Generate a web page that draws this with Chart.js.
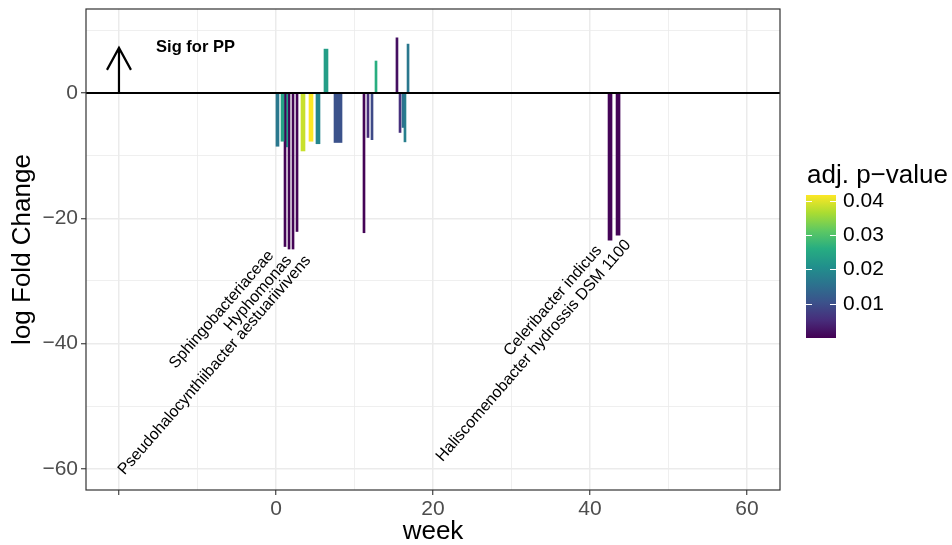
<!DOCTYPE html>
<html lang="en">
<head>
  <meta charset="UTF-8">
  <title>log Fold Change by week</title>
  <script src="https://cdn.jsdelivr.net/npm/chart.js"></script>
  <style>
    body {
      margin: 0;
      background: #fff;
    }

    #chart-container {
      width: 952px;
      height: 545px;
    }
  </style>
</head>
<body>
  <div id="chart-container">
    <canvas id="lfcChart"></canvas>
  </div>
  <script>
    // one entry per bar
    const weeks = [0.19, 0.83, 1.15, 1.40, 1.66, 2.17, 2.68, 3.44, 4.46, 5.35, 6.37, 7.90,
      11.21, 11.72, 12.23, 12.74, 15.41, 15.80, 16.18, 16.43, 16.82, 42.55, 43.57];
    const logFoldChange = [-8.5, -7.7, -24.5, -8.6, -24.9, -24.9, -22.1, -9.25, -7.7, -8.1, 7.0, -7.9,
      -22.3, -7.1, -7.45, 5.1, 8.8, -6.3, -5.5, -7.8, 7.8, -23.5, -22.7];
    const adjPValue = [0.0166, 0.0241, 0.0003, 0.0229, 0.0003, 0.0003, 0.0003, 0.0383, 0.0416, 0.0191, 0.0233, 0.0104,
      0.0003, 0.0052, 0.0092, 0.0262, 0.0017, 0.0058, 0.0156, 0.0179, 0.0166, 0.0004, 0.0004];

    // taxon labels and where they sit (week, log fold change)
    const taxonLabels = ["Sphingobacteriaceae", "Hyphomonas", "Pseudohalocynthiibacter aestuariivivens",
      "Celeribacter indicus", "Haliscomenobacter hydrossis DSM 1100"];
    const labelWeek = [-0.64, 1.66, 4.08, 41.15, 44.84];
    const labelLfc = [-25.5, -26.3, -26.3, -24.7, -23.8];

    const xMajorTicks = [-20, 0, 20, 40, 60];
    const xLabelledTicks = [0, 20, 40, 60];
    const xMinorTicks = [-10, 10, 30, 50];
    const yMajorTicks = [-60, -40, -20, 0];
    const yMinorTicks = [-50, -30, -10, 10];
    const legendBreaks = [0.01, 0.02, 0.03, 0.04];
    const pRange = [0, 0.0416];

    const sigText = "Sig for PP";
    const sigAt = [-10.25, 7.2];
    const arrowFrom = [-20, 0];
    const arrowTo = [-20, 7.2];

    // bar drawing widths in px (style)
    const barPx = [3, 3, 2, 1.5, 2, 2, 2, 4, 4, 4, 4, 8, 2, 2, 2, 2, 2, 2, 2, 2, 2, 4, 4];

    const FONT = '"Liberation Sans", Arial, Helvetica, sans-serif';
    const viridisStops = ["#440154", "#472D7B", "#3B528B", "#2C728E", "#21908C", "#27AD81", "#5DC863", "#AADC32", "#FDE725"];

    function hexToRgb(h) {
      return [parseInt(h.slice(1, 3), 16), parseInt(h.slice(3, 5), 16), parseInt(h.slice(5, 7), 16)];
    }

    function viridis(t) {
      t = Math.max(0, Math.min(1, t));
      const pos = t * (viridisStops.length - 1);
      const i = Math.min(Math.floor(pos), viridisStops.length - 2);
      const f = pos - i;
      const a = hexToRgb(viridisStops[i]);
      const b = hexToRgb(viridisStops[i + 1]);
      const c = a.map((v, k) => Math.round(v + (b[k] - v) * f));
      return `rgb(${c[0]}, ${c[1]}, ${c[2]})`;
    }

    const pToT = (p) => (p - pRange[0]) / (pRange[1] - pRange[0]);
    const minus = (v) => String(v).replace("-", "\u2212");

    const datasets = weeks.map((w, i) => ({
      data: [{ x: w, y: logFoldChange[i] }],
      backgroundColor: viridis(pToT(adjPValue[i])),
      borderWidth: 0,
      barThickness: barPx[i],
      grouped: false,
    }));

    const extras = {
      id: "extras",
      afterDatasetsDraw(chart) {
        const { ctx, chartArea: a, scales: { x, y } } = chart;
        ctx.save();

        // zero line
        const y0 = y.getPixelForValue(0);
        ctx.strokeStyle = "#000";
        ctx.lineWidth = 1.8;
        ctx.beginPath();
        ctx.moveTo(a.left, y0);
        ctx.lineTo(a.right, y0);
        ctx.stroke();

        // arrow
        const ax0 = x.getPixelForValue(arrowFrom[0]);
        const ay0 = y.getPixelForValue(arrowFrom[1]);
        const ax1 = x.getPixelForValue(arrowTo[0]);
        const ay1 = y.getPixelForValue(arrowTo[1]);
        ctx.lineWidth = 2.2;
        ctx.beginPath();
        ctx.moveTo(ax0, ay0);
        ctx.lineTo(ax1, ay1);
        ctx.moveTo(ax1 - 12, ay1 + 22);
        ctx.lineTo(ax1, ay1);
        ctx.lineTo(ax1 + 12, ay1 + 22);
        ctx.stroke();

        // annotation text
        ctx.fillStyle = "#000";
        ctx.font = `bold 16.5px ${FONT}`;
        ctx.textAlign = "center";
        ctx.textBaseline = "middle";
        ctx.fillText(sigText, x.getPixelForValue(sigAt[0]), y.getPixelForValue(sigAt[1]));

        ctx.font = `16px ${FONT}`;
        ctx.textAlign = "right";
        taxonLabels.forEach((t, i) => {
          ctx.save();
          ctx.translate(x.getPixelForValue(labelWeek[i]), y.getPixelForValue(labelLfc[i]));
          ctx.rotate(-49 * Math.PI / 180);
          ctx.fillText(t, 0, 0);
          ctx.restore();
        });

        // panel border
        ctx.strokeStyle = "#333";
        ctx.lineWidth = 1.2;
        ctx.strokeRect(a.left, a.top, a.right - a.left, a.bottom - a.top);
        ctx.restore();
      },
      afterDraw(chart) {
        const { ctx, chartArea: a } = chart;
        const lx = a.right + 26;
        const top = 195;
        const w = 30;
        const h = 143;
        const bottom = top + h;
        ctx.save();

        ctx.fillStyle = "#000";
        ctx.font = `26px ${FONT}`;
        ctx.textAlign = "left";
        ctx.textBaseline = "middle";
        ctx.fillText("adj. p\u2212value", lx + 1, 176);

        const g = ctx.createLinearGradient(0, bottom, 0, top);
        viridisStops.forEach((c, i) => g.addColorStop(i / (viridisStops.length - 1), c));
        ctx.fillStyle = g;
        ctx.fillRect(lx, top, w, h);

        ctx.strokeStyle = "#fff";
        ctx.lineWidth = 1;
        ctx.font = `21px ${FONT}`;
        ctx.fillStyle = "#000";
        legendBreaks.forEach((b) => {
          const by = Math.round(bottom - pToT(b) * h) + 0.5;
          ctx.beginPath();
          ctx.moveTo(lx, by);
          ctx.lineTo(lx + 6, by);
          ctx.moveTo(lx + w - 6, by);
          ctx.lineTo(lx + w, by);
          ctx.stroke();
          ctx.fillText(b.toFixed(2), lx + w + 7, by);
        });
        ctx.restore();
      },
    };

    const gridStyle = (majors) => ({
      color: "#ebebeb",
      lineWidth: (c) => (c.tick && majors.includes(c.tick.value) ? 1.5 : 0.8),
      tickColor: (c) => (c.tick && majors.includes(c.tick.value) ? "#333" : "rgba(0,0,0,0)"),
      tickLength: 5,
      tickWidth: 1.1,
      offset: false,
    });

    const noEdgePadding = (s) => {
      s.paddingTop = 0;
      s.paddingBottom = 0;
      s.paddingLeft = 0;
      s.paddingRight = 0;
    };

    const ctx = document.getElementById("lfcChart").getContext("2d");

    new Chart(ctx, {
      type: "bar",
      data: { datasets },
      plugins: [extras],
      options: {
        responsive: true,
        maintainAspectRatio: false,
        animation: false,
        layout: { padding: { top: 9, right: 172, left: 0, bottom: 0 } },
        plugins: {
          legend: { display: false },
          tooltip: { enabled: false },
        },
        scales: {
          x: {
            type: "linear",
            min: -24.2,
            max: 64.2,
            offset: false,
            grid: gridStyle(xMajorTicks),
            border: { display: false },
            afterBuildTicks: (s) => {
              s.ticks = [...xMajorTicks, ...xMinorTicks].sort((p, q) => p - q).map((v) => ({ value: v }));
            },
            afterFit: (s) => {
              s.height = 55;
              noEdgePadding(s);
            },
            ticks: {
              autoSkip: false,
              maxRotation: 0,
              padding: 2,
              color: "#4d4d4d",
              font: { family: FONT, size: 21 },
              callback: (v) => (xLabelledTicks.includes(v) ? minus(v) : ""),
            },
            title: {
              display: true,
              text: "week",
              color: "#000",
              padding: 0,
              font: { family: FONT, size: 26, lineHeight: 1 },
            },
          },
          y: {
            type: "linear",
            min: -63.35,
            max: 13.4,
            grid: gridStyle(yMajorTicks),
            border: { display: false },
            afterBuildTicks: (s) => {
              s.ticks = [...yMajorTicks, ...yMinorTicks].sort((p, q) => p - q).map((v) => ({ value: v }));
            },
            afterFit: (s) => {
              s.width = 86;
              noEdgePadding(s);
            },
            ticks: {
              autoSkip: false,
              padding: 3,
              color: "#4d4d4d",
              font: { family: FONT, size: 21 },
              callback: (v) => (yMajorTicks.includes(v) ? minus(v) : ""),
            },
            title: {
              display: true,
              text: "log Fold Change",
              color: "#000",
              padding: { top: 10, bottom: 0 },
              font: { family: FONT, size: 26, lineHeight: 1 },
            },
          },
        },
      },
    });
  </script>
</body>
</html>
